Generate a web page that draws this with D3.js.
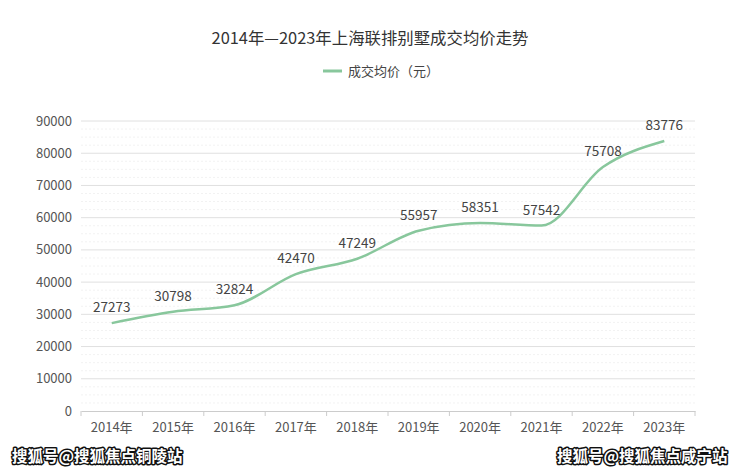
<!DOCTYPE html>
<html><head><meta charset="utf-8">
<script src="https://cdn.jsdelivr.net/npm/d3@7"></script>
<style>body{margin:0;background:#fff}svg{display:block;font-family:"Noto Sans CJK SC","Noto Sans",sans-serif}</style>
</head><body><svg id="c" width="740" height="471"></svg>
<script>
const categories = ["2014年","2015年","2016年","2017年","2018年","2019年","2020年","2021年","2022年","2023年"];
const values = [27273,30798,32824,42470,47249,55957,58351,57542,75708,83776];
const yTicks = [0,10000,20000,30000,40000,50000,60000,70000,80000,90000];
const seriesName = "成交均价（元）";
const title = "2014年—2023年上海联排别墅成交均价走势";

const svg = d3.select("#c");
const m = {l:81, r:695, t:121, b:411};
const x = d3.scaleBand().domain(categories).range([m.l, m.r]);
const y = d3.scaleLinear().domain([0,90000]).range([m.b, m.t]);

// minor faint lines
const minor = d3.range(0, 90000, 2500).filter(v => v % 10000 !== 0);
svg.append("g").selectAll("line").data(minor).join("line")
  .attr("x1", m.l).attr("x2", m.r).attr("y1", d=>y(d)).attr("y2", d=>y(d))
  .attr("stroke", "#f2f2f2").attr("stroke-dasharray","2,2");

// grid
svg.append("g").selectAll("line").data(yTicks.slice(1)).join("line")
  .attr("x1", m.l).attr("x2", m.r).attr("y1", d=>y(d)).attr("y2", d=>y(d))
  .attr("stroke", "#e0e0e0");

// y labels
svg.append("g").selectAll("text").data(yTicks).join("text")
  .attr("x", 72).attr("y", d=>y(d)).attr("dy","0.35em").attr("text-anchor","end")
  .attr("font-size", 13).attr("fill","#555").text(d=>d);

// x axis
const xa = svg.append("g").attr("transform", `translate(0,${m.b})`)
  .call(d3.axisBottom(x).tickSize(0).tickPadding(12));
xa.select(".domain").attr("stroke","#ccc");
xa.selectAll("text").attr("font-size",13).attr("fill","#555").attr("font-family","'Noto Sans CJK SC',sans-serif");
const bounds = categories.map(c=>x(c)).concat([m.r]);
svg.append("g").selectAll("line").data(bounds).join("line")
  .attr("x1", d=>d).attr("x2", d=>d).attr("y1", m.b).attr("y2", m.b+5).attr("stroke","#ccc");

// line
const color = "#88c79c";
const pts = categories.map((c,i)=>[x(c)+x.bandwidth()/2, y(values[i])]);
svg.append("path").attr("d", d3.line().curve(d3.curveMonotoneX)(pts))
  .attr("fill","none").attr("stroke", color).attr("stroke-width", 2.5);

// labels
svg.append("g").selectAll("text").data(values).join("text")
  .attr("x", (d,i)=>pts[i][0]).attr("y", (d,i)=>pts[i][1]-11)
  .attr("text-anchor","middle").attr("font-size",13.5).attr("fill","#444").text(d=>d);

// title
svg.append("text").attr("x", 370).attr("y", 44).attr("text-anchor","middle")
  .attr("font-size", 16.4).attr("fill","#333").text(title);

// legend
svg.append("line").attr("x1",323).attr("x2",342).attr("y1",71).attr("y2",71)
  .attr("stroke", color).attr("stroke-width",3);
svg.append("text").attr("x",348).attr("y",71).attr("dy","0.35em")
  .attr("font-size",13).attr("fill","#444").text(seriesName);

// watermarks
function wm(xp, t){
  svg.append("text").attr("x",xp).attr("y",462).attr("font-size",15.5).attr("font-weight","bold")
    .attr("fill","#fff").attr("stroke","#111").attr("stroke-width",3).attr("paint-order","stroke")
    .attr("stroke-linejoin","round").text(t);
}
wm(12, "搜狐号@搜狐焦点铜陵站");
wm(557, "搜狐号@搜狐焦点咸宁站");
</script></body></html>
